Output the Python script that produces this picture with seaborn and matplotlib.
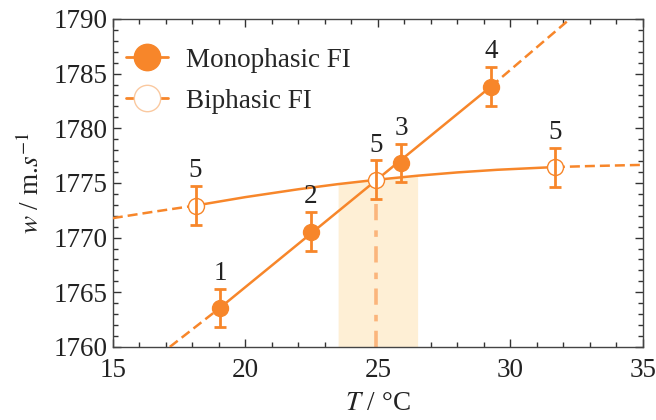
import numpy as np
import pandas as pd
import seaborn as sns
import matplotlib.pyplot as plt
from matplotlib.lines import Line2D

# Datos
mono_T = [19.04, 22.47, 25.87, 29.26]
mono_w = [1763.57, 1770.55, 1776.8, 1783.8]
mono_err = [1.75, 1.8, 1.75, 1.8]
mono_labels = ['1', '2', '3', '4']

bi_T = [18.12, 24.92, 31.68]
bi_w = [1772.93, 1775.28, 1776.45]
bi_err = [1.8, 1.78, 1.78]
bi_labels = ['5', '5', '5']

# recta monofásica (tramos discontinuos fuera del rango de puntos)
mono_fit_T = [17.15, 19.04, 29.26, 32.25]
mono_fit_w = [1760.0, 1763.57, 1783.8, 1790.0]

# curva bifásica leída a ojo
bi_curve_T = [15, 16.5, 18.12, 20, 22, 23.5, 24.92, 26.5, 28, 29.5, 31.68, 33, 35]
bi_curve_w = [1771.78, 1772.35, 1772.93, 1773.70, 1774.42, 1774.89, 1775.28,
              1775.66, 1775.96, 1776.20, 1776.45, 1776.54, 1776.65]

# zona sombreada
shade_T = [23.5, 26.5]

naranja = '#F7862A'
naranja_claro = '#FBB57C'
sombra = '#FEEFD5'
fs = 19.5

sns.set_theme(style='ticks')
plt.rcParams['font.family'] = ['Liberation Serif', 'DejaVu Serif']
plt.rcParams['mathtext.fontset'] = 'stix'

fig = plt.figure(figsize=(6.56, 4.2), dpi=100)
ax = fig.add_axes([0.172, 0.174, 0.808, 0.781])

curva = pd.DataFrame({'T': bi_curve_T, 'w': bi_curve_w})
recta = pd.DataFrame({'T': mono_fit_T, 'w': mono_fit_w})

# sombreado bajo la curva bifásica
zona = curva[(curva['T'] >= shade_T[0]) & (curva['T'] <= shade_T[1])]
ax.fill_between(zona['T'], 1760, zona['w'], color=sombra, lw=0, zorder=1)

# línea vertical en el punto de corte
ax.plot([bi_T[1], bi_T[1]], [1760, bi_w[1] - bi_err[1]], color=naranja_claro,
        lw=2.6, dashes=(4.5, 2.6, 1.8, 2.8), zorder=2)

# curva bifásica
solido = curva[(curva['T'] >= bi_T[0]) & (curva['T'] <= bi_T[-1])]
sns.lineplot(data=solido, x='T', y='w', color=naranja, lw=1.8, sort=False, ax=ax, zorder=3)
sns.lineplot(data=curva[curva['T'] <= bi_T[0]], x='T', y='w', color=naranja, lw=1.8,
             dashes=(4, 2), sort=False, ax=ax, zorder=3)
sns.lineplot(data=curva[curva['T'] >= bi_T[-1]], x='T', y='w', color=naranja, lw=1.8,
             dashes=(4, 2), sort=False, ax=ax, zorder=3)

# recta monofásica
sns.lineplot(data=recta.iloc[1:3], x='T', y='w', color=naranja, lw=1.8, sort=False, ax=ax, zorder=3)
sns.lineplot(data=recta.iloc[0:2], x='T', y='w', color=naranja, lw=1.8, dashes=(4, 2),
             sort=False, ax=ax, zorder=3)
sns.lineplot(data=recta.iloc[2:4], x='T', y='w', color=naranja, lw=1.8, dashes=(4, 2),
             sort=False, ax=ax, zorder=3)

# puntos con barras de error
ax.errorbar(mono_T, mono_w, yerr=mono_err, fmt='none', ecolor=naranja, elinewidth=2,
            capsize=4, capthick=2, zorder=4)
ax.plot(mono_T, mono_w, 'o', color=naranja, ms=11.5, zorder=5)

ax.plot(bi_T, bi_w, 'o', mfc='white', mec=naranja, mew=1.0, ms=11.5, zorder=4)
ax.errorbar(bi_T, bi_w, yerr=bi_err, fmt='none', ecolor=naranja, elinewidth=2,
            capsize=4, capthick=2, zorder=5)

# etiquetas numéricas
for t, w, e, lab in zip(mono_T + bi_T, mono_w + bi_w, mono_err + bi_err, mono_labels + bi_labels):
    ax.annotate(lab, (t, w + e), xytext=(0, 2), textcoords='offset points',
                ha='center', va='bottom', fontsize=fs, color='#222222')

ax.set_xlim(15, 35)
ax.set_ylim(1760, 1790)
ax.set_xticks([15, 20, 25, 30, 35])
ax.set_yticks([1760, 1765, 1770, 1775, 1780, 1785, 1790])
ax.set_xticks(np.arange(15, 36, 1), minor=True)
ax.set_yticks(np.arange(1760, 1791, 1), minor=True)
ax.tick_params(which='both', direction='in', top=True, right=True, colors='#333333',
               labelcolor='#222222', labelsize=fs, width=1)
ax.tick_params(which='major', length=6, pad=4)
ax.tick_params(axis='x', which='major', pad=8)
ax.tick_params(which='minor', length=3.5)
for s in ax.spines.values():
    s.set_color('#444444')
    s.set_linewidth(1)

ax.set_xlabel(r'$T$ / °C', fontsize=fs, color='#222222', labelpad=6)
ax.set_ylabel(r'$w$ / m.$s^{-1}$', fontsize=fs, color='#222222', labelpad=6)

handles = [
    Line2D([], [], color=naranja, lw=2, marker='o', ms=19, mfc=naranja, mec=naranja),
    Line2D([], [], color=naranja, lw=2, marker='o', ms=19, mfc='white', mec='#FAC9A0', mew=1),
]
ax.legend(handles, ['Monophasic FI', 'Biphasic FI'], loc='upper left',
          bbox_to_anchor=(-0.01, 0.97), frameon=False, fontsize=fs,
          handlelength=1.55, handletextpad=0.65, labelspacing=0.6, borderpad=0.2)

fig.savefig('out.png', dpi=100)
